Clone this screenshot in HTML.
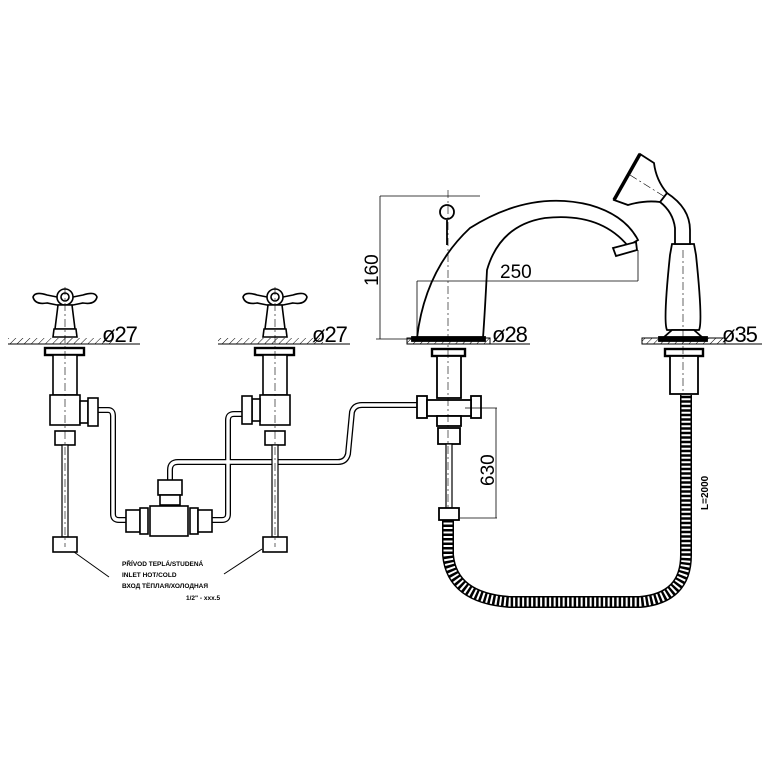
<!DOCTYPE html>
<html><head><style>
html,body{margin:0;padding:0;background:#fff;width:768px;height:768px;overflow:hidden}
svg{display:block}
text{font-family:"Liberation Sans",sans-serif}
</style></head><body>
<svg width="768" height="768" viewBox="0 0 768 768" xmlns="http://www.w3.org/2000/svg">
<defs>
<pattern id="h" width="5" height="5" patternUnits="userSpaceOnUse" patternTransform="rotate(45)">
<line x1="0" y1="0" x2="0" y2="5" stroke="#000" stroke-width="1"/>
</pattern>
<g id="valve" fill="#fff" stroke="#000" stroke-width="1.6">
<path d="M-32,-4 Q-30,-10 -18,-6 L-8,-4 L8,-4 L18,-6 Q30,-10 32,-4 Q30,4 18,2 L8,4 L-8,4 L-18,2 Q-30,4 -32,-4Z" transform="translate(0,4)"/>
<circle cx="0" cy="0" r="8"/>
<circle cx="0" cy="0" r="4"/>
<path d="M-7,8 L7,8 L10,32 L-10,32Z"/>
<path d="M-11,32 L11,32 L12,40 L-12,40Z"/>
<rect x="-20" y="51" width="39" height="7" stroke-width="2.4"/>
<rect x="-12" y="58" width="24" height="40"/>
<rect x="-15" y="98" width="30" height="30"/>
<rect x="-10" y="134" width="20" height="14"/>
<rect x="-3" y="148" width="6" height="92" stroke-width="1.2"/>
<rect x="-12" y="240" width="24" height="15"/>
<line x1="0" y1="-10" x2="0" y2="250" stroke-width="0.6" stroke-dasharray="8,3,2,3"/>
</g>
</defs>

<rect x="8" y="338" width="104" height="6" fill="url(#h)"/>
<line x1="8" y1="344" x2="140" y2="344" stroke="#000" stroke-width="1"/>
<rect x="218" y="338" width="105" height="6" fill="url(#h)"/>
<line x1="218" y1="344" x2="350" y2="344" stroke="#000" stroke-width="1"/>
<rect x="407" y="338" width="83" height="6" fill="url(#h)" stroke="#000" stroke-width="1"/>
<line x1="490" y1="344" x2="530" y2="344" stroke="#000" stroke-width="1"/>
<rect x="642" y="338" width="83" height="6" fill="url(#h)" stroke="#000" stroke-width="1"/>
<line x1="725" y1="344" x2="762" y2="344" stroke="#000" stroke-width="1"/>

<text x="102" y="342" font-size="22" letter-spacing="-1">ø27</text>
<text x="312" y="342" font-size="22" letter-spacing="-1">ø27</text>
<text x="492" y="342" font-size="22" letter-spacing="-1">ø28</text>
<text x="722" y="342" font-size="22" letter-spacing="-1">ø35</text>

<g fill="none" stroke="#000" stroke-width="6" stroke-linejoin="round">
<path d="M96,410 L108,410 Q113,410 113,416 L113,514 Q113,520 119,520 L128,520"/>
<path d="M210,520 L222,520 Q228,520 228,514 L228,420 Q228,414 234,414 L246,414"/>
<path d="M170,484 L170,470 Q170,462 178,462 L338,462 Q346,462 348,454 L352,412 Q354,405 362,405 L420,405"/>
</g>
<g fill="none" stroke="#fff" stroke-width="3.4" stroke-linejoin="round">
<path d="M96,410 L108,410 Q113,410 113,416 L113,514 Q113,520 119,520 L128,520"/>
<path d="M210,520 L222,520 Q228,520 228,514 L228,420 Q228,414 234,414 L246,414"/>
<path d="M170,484 L170,470 Q170,462 178,462 L338,462 Q346,462 348,454 L352,412 Q354,405 362,405 L420,405"/>
</g>

<use href="#valve" x="65" y="297"/>
<use href="#valve" x="275" y="297"/>
<g fill="#fff" stroke="#000" stroke-width="1.6">
<rect x="80" y="401" width="8" height="22"/><rect x="88" y="398" width="10" height="28"/>
<rect x="252" y="399" width="8" height="22"/><rect x="242" y="396" width="10" height="28"/>
<rect x="126" y="510" width="14" height="22"/><rect x="140" y="508" width="8" height="26"/>
<rect x="150" y="506" width="38" height="30"/>
<rect x="190" y="508" width="8" height="26"/><rect x="198" y="510" width="14" height="22"/>
<rect x="158" y="480" width="24" height="15"/><rect x="160" y="495" width="20" height="10"/>
</g>

<g font-size="6.5" font-weight="bold">
<text x="122" y="566">PŘÍVOD TEPLÁ/STUDENÁ</text>
<text x="122" y="577">INLET HOT/COLD</text>
<text x="122" y="588">ВХОД ТЁПЛАЯ/ХОЛОДНАЯ</text>
<text x="186" y="600">1/2" - xxx.5</text>
</g>
<line x1="109" y1="577" x2="74" y2="552" stroke="#000" stroke-width="1"/>
<line x1="224" y1="574" x2="262" y2="549" stroke="#000" stroke-width="1"/>

<path d="M448,518 L448,555 Q452,598 510,602 L640,602 Q686,598 686,555 L686,395" fill="none" stroke="#000" stroke-width="12"/>
<path d="M448,518 L448,555 Q452,598 510,602 L640,602 Q686,598 686,555 L686,395" fill="none" stroke="#fff" stroke-width="9" stroke-dasharray="2,2.5"/>
<text transform="translate(708,510) rotate(-90)" font-size="10" font-weight="bold">L=2000</text>

<g fill="#fff" stroke="#000" stroke-width="1.8">
<path d="M417,338 Q425,270 470,228 Q530,190 590,205 Q625,215 638,240 L628,246 Q600,212 545,218 Q500,225 487,270 Q485,310 483,338Z"/>
<path d="M613,248 L636,242 L637,250 L616,256Z"/>
<line x1="447" y1="245" x2="447" y2="220"/>
<circle cx="447" cy="212" r="7"/>
<rect x="412" y="337" width="73" height="4" fill="#000"/>
<rect x="432" y="349" width="33" height="7" stroke-width="2.4"/>
<rect x="437" y="356" width="24" height="42"/>
<rect x="417" y="396" width="10" height="22"/><rect x="471" y="396" width="10" height="22"/>
<rect x="427" y="400" width="44" height="16"/>
<rect x="437" y="416" width="24" height="10"/>
<rect x="438" y="428" width="22" height="16"/>
<rect x="446" y="444" width="6" height="64" stroke-width="1.2"/>
<rect x="439" y="508" width="20" height="12"/>
</g>
<line x1="448" y1="190" x2="448" y2="510" stroke="#000" stroke-width="0.6" stroke-dasharray="8,3,2,3"/>
<g stroke="#000" stroke-width="0.8" fill="none">
<line x1="380" y1="196" x2="480" y2="196"/>
<line x1="380" y1="196" x2="380" y2="339"/>
<line x1="376" y1="339" x2="412" y2="339"/>
<line x1="417" y1="281" x2="638" y2="281"/>
<line x1="417" y1="281" x2="417" y2="338"/>
<line x1="638" y1="281" x2="638" y2="250"/>
<line x1="465" y1="408" x2="497" y2="408"/>
<line x1="496" y1="408" x2="496" y2="518"/>
<line x1="460" y1="518" x2="497" y2="518"/>
</g>
<text transform="translate(378,286) rotate(-90)" font-size="19">160</text>
<text x="500" y="278" font-size="19">250</text>
<text transform="translate(494,486) rotate(-90)" font-size="19">630</text>

<g fill="#fff" stroke="#000" stroke-width="1.8">
<path d="M667,330 L699,330 Q703,322 696,255 L694,244 L672,244 L670,255 Q663,322 667,330Z"/>
<path d="M675,244 L675,228 Q673,212 660,202 L667,193 Q690,208 690,230 L690,244Z"/>
<path d="M640,154 L654,163 Q656,180 667,193 L660,202 Q645,200 628,205 L614,200 Z"/>
<line x1="640" y1="154" x2="614" y2="200" stroke-width="3.5"/>
<path d="M672,330 L694,330 L703,338 L663,338Z"/>
<rect x="659" y="337" width="48" height="4" fill="#000"/>
<rect x="665" y="349" width="38" height="7" stroke-width="2.4"/>
<rect x="670" y="356" width="28" height="38"/>
</g>
<line x1="683" y1="250" x2="683" y2="392" stroke="#000" stroke-width="0.6" stroke-dasharray="8,3,2,3"/>
<line x1="630" y1="175" x2="665" y2="197" stroke="#000" stroke-width="0.6" stroke-dasharray="8,3,2,3"/>
</svg>
</body></html>
